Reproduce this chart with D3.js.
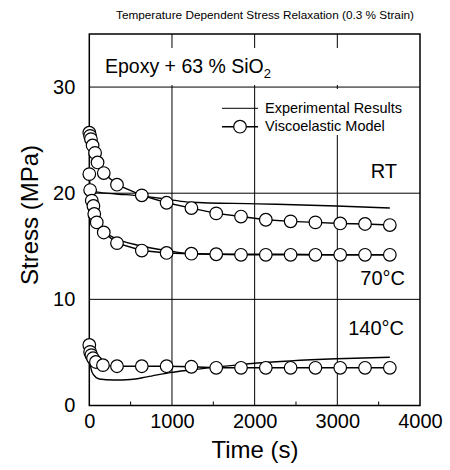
<!DOCTYPE html>
<html>
<head>
<meta charset="utf-8">
<script src="https://cdn.jsdelivr.net/npm/d3@7"></script>
<style>
  body { margin: 0; background: #fff; }
  svg { display: block; font-family: "Liberation Sans", Arial, sans-serif; }
</style>
</head>
<body>
<svg id="relaxChart" width="450" height="470"></svg>
<script>
// data (time in s, stress in MPa)
var xTicks = [0, 1000, 2000, 3000, 4000];
var yTicks = [0, 10, 20, 30];
var xMinor = [500, 1500, 2500, 3500];

var rtModelTime = [0, 10, 20, 40, 70, 100, 175, 335, 635, 935, 1235, 1535, 1835, 2135, 2435, 2735, 3035, 3335, 3635];
var rtModelStress = [25.7, 25.4, 25.1, 24.5, 23.8, 22.9, 21.9, 20.8, 19.8, 19.1, 18.6, 18.1, 17.8, 17.5, 17.35, 17.25, 17.15, 17.1, 17.0];

var t70ModelTime = [0, 10, 30, 50, 60, 90, 175, 335, 635, 935, 1235, 1535, 1835, 2135, 2435, 2735, 3035, 3335, 3635];
var t70ModelStress = [21.8, 20.3, 19.3, 18.8, 18.05, 17.25, 16.3, 15.3, 14.6, 14.37, 14.3, 14.25, 14.2, 14.2, 14.2, 14.2, 14.2, 14.2, 14.2];

var t140ModelTime = [0, 10, 25, 45, 80, 165, 335, 635, 935, 1235, 1535, 1835, 2135, 2435, 2735, 3035, 3335, 3635];
var t140ModelStress = [5.7, 5.05, 4.75, 4.45, 4.1, 3.8, 3.7, 3.7, 3.7, 3.65, 3.55, 3.55, 3.55, 3.55, 3.55, 3.55, 3.55, 3.55];

var rtExpTime = [20, 100, 300, 615, 975, 1220, 2030, 2990, 3635];
var rtExpStress = [20.5, 20.1, 19.95, 19.75, 19.4, 19.15, 19.0, 18.8, 18.6];

var t70ExpTime = [20, 40, 90, 290, 615, 975, 1220, 1830, 2430, 3000, 3635];
var t70ExpStress = [19.5, 18.6, 16.9, 15.85, 15.05, 14.55, 14.3, 14.25, 14.25, 14.2, 14.2];

var t140ExpTime = [0, 20, 50, 120, 290, 500, 700, 975, 1220, 1830, 2030, 2430, 2990, 3635];
var t140ExpStress = [5.0, 3.5, 2.9, 2.5, 2.4, 2.45, 2.7, 3.1, 3.35, 3.85, 4.0, 4.2, 4.4, 4.55];

var seriesLabels = ["RT", "70°C", "140°C"];

drawChart();

function pairs(ts, vs) {
  return ts.map(function (t, i) { return { t: t, v: vs[i] }; });
}

function drawChart() {
  var models = [pairs(rtModelTime, rtModelStress), pairs(t70ModelTime, t70ModelStress), pairs(t140ModelTime, t140ModelStress)];
  var exps = [pairs(rtExpTime, rtExpStress), pairs(t70ExpTime, t70ExpStress), pairs(t140ExpTime, t140ExpStress)];

  var svg = d3.select("#relaxChart");
  var pLeft = 89.3, pRight = 420, pTop = 34, pBottom = 405.5;

  var x = d3.scaleLinear().domain([0, 4000]).range([pLeft, pRight]);
  var y = d3.scaleLinear().domain([0, 35]).range([pBottom, pTop]);

  // title
  svg.append("text")
    .attr("x", 265).attr("y", 19)
    .attr("text-anchor", "middle")
    .attr("font-size", "10.5px")
    .attr("textLength", 298)
    .attr("lengthAdjust", "spacingAndGlyphs")
    .text("Temperature Dependent Stress Relaxation (0.3 % Strain)");

  // vertical grid
  svg.append("g")
    .selectAll("line")
    .data([1000, 2000, 3000])
    .enter().append("line")
    .attr("x1", function (d) { return x(d); }).attr("x2", function (d) { return x(d); })
    .attr("y1", pTop).attr("y2", pBottom)
    .attr("stroke", "#000").attr("stroke-width", 1);

  // white areas behind the label and legend
  svg.append("rect").attr("x", 95).attr("y", 48).attr("width", 324).attr("height", 37).attr("fill", "#fff");
  svg.append("rect").attr("x", 259).attr("y", 89).attr("width", 160).attr("height", 46).attr("fill", "#fff");

  // horizontal grid
  svg.append("g")
    .selectAll("line")
    .data([10, 20, 30])
    .enter().append("line")
    .attr("x1", pLeft).attr("x2", pRight)
    .attr("y1", function (d) { return y(d); }).attr("y2", function (d) { return y(d); })
    .attr("stroke", "#000").attr("stroke-width", 1);

  // minor ticks on the bottom
  svg.append("g")
    .selectAll("line")
    .data(xMinor)
    .enter().append("line")
    .attr("x1", function (d) { return x(d); }).attr("x2", function (d) { return x(d); })
    .attr("y1", pBottom).attr("y2", pBottom - 4)
    .attr("stroke", "#000").attr("stroke-width", 1);

  // axes (labels only)
  var xAxis = svg.append("g")
    .attr("transform", "translate(0," + pBottom + ")")
    .call(d3.axisBottom(x).tickValues(xTicks).tickSize(0).tickPadding(8).tickFormat(d3.format("d")));
  var yAxis = svg.append("g")
    .attr("transform", "translate(" + pLeft + ",0)")
    .call(d3.axisLeft(y).tickValues(yTicks).tickSize(0).tickPadding(14).tickFormat(d3.format("d")));
  [xAxis, yAxis].forEach(function (a) {
    a.select(".domain").remove();
    a.selectAll("text").attr("font-size", "20px").attr("font-family", "Liberation Sans, Arial, sans-serif").attr("fill", "#000");
  });

  // frame
  svg.append("rect")
    .attr("x", pLeft).attr("y", pTop)
    .attr("width", pRight - pLeft).attr("height", pBottom - pTop)
    .attr("fill", "none").attr("stroke", "#000").attr("stroke-width", 1.5);

  // axis titles
  svg.append("text")
    .attr("x", 255).attr("y", 458)
    .attr("text-anchor", "middle")
    .attr("font-size", "24px")
    .text("Time (s)");
  svg.append("text")
    .attr("transform", "translate(38,215) rotate(-90)")
    .attr("text-anchor", "middle")
    .attr("font-size", "24px")
    .text("Stress (MPa)");

  // material label
  var mat = svg.append("text").attr("x", 105).attr("y", 73).attr("font-size", "19.5px");
  mat.append("tspan").text("Epoxy + 63 % SiO");
  mat.append("tspan").attr("font-size", "13px").attr("dy", 5).text("2");

  // curves
  var line = d3.line()
    .x(function (d) { return x(d.t); })
    .y(function (d) { return y(d.v); });
  var smooth = d3.line()
    .curve(d3.curveMonotoneX)
    .x(function (d) { return x(d.t); })
    .y(function (d) { return y(d.v); });

  svg.append("g")
    .selectAll("path")
    .data(exps)
    .enter().append("path")
    .attr("d", smooth)
    .attr("fill", "none").attr("stroke", "#000").attr("stroke-width", 1.4);

  svg.append("g")
    .selectAll("path")
    .data(models)
    .enter().append("path")
    .attr("d", line)
    .attr("fill", "none").attr("stroke", "#000").attr("stroke-width", 1.4);

  models.forEach(function (m) {
    svg.append("g")
      .selectAll("circle")
      .data(m)
      .enter().append("circle")
      .attr("cx", function (d) { return x(d.t); })
      .attr("cy", function (d) { return y(d.v); })
      .attr("r", 6.3)
      .attr("fill", "#fff").attr("stroke", "#000").attr("stroke-width", 1.2);
  });

  // temperature labels
  var labelPos = [[397, 178], [405, 285], [404, 335]];
  svg.append("g")
    .selectAll("text")
    .data(seriesLabels)
    .enter().append("text")
    .attr("x", function (d, i) { return labelPos[i][0]; })
    .attr("y", function (d, i) { return labelPos[i][1]; })
    .attr("text-anchor", "end")
    .attr("font-size", "20px")
    .text(function (d) { return d; });

  // legend
  var lg = svg.append("g");
  lg.append("line").attr("x1", 222).attr("x2", 258).attr("y1", 108.3).attr("y2", 108.3)
    .attr("stroke", "#000").attr("stroke-width", 1);
  lg.append("line").attr("x1", 222).attr("x2", 258).attr("y1", 126.7).attr("y2", 126.7)
    .attr("stroke", "#000").attr("stroke-width", 1.4);
  lg.append("circle").attr("cx", 240).attr("cy", 126.7).attr("r", 6.3)
    .attr("fill", "#fff").attr("stroke", "#000").attr("stroke-width", 1.2);
  lg.append("text").attr("x", 265).attr("y", 113).attr("font-size", "14.5px").text("Experimental Results");
  lg.append("text").attr("x", 265).attr("y", 131).attr("font-size", "14.5px").text("Viscoelastic Model");
}
</script>
</body>
</html>
